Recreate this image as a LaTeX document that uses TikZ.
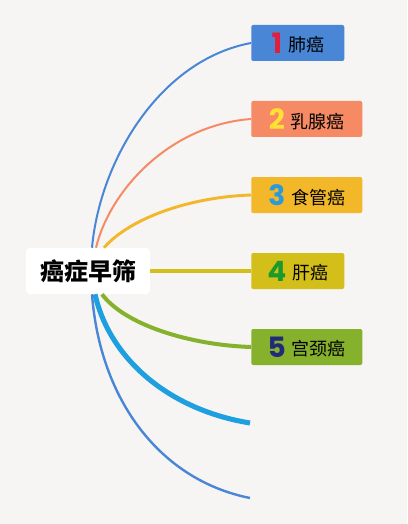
\documentclass[tikz,border=0pt]{standalone}
\usepackage{fontspec}
\newfontfamily\cjk{Noto Sans CJK SC}
\newfontfamily\numfont{Poppins}
\usetikzlibrary{calc}

\definecolor{bgcol}{HTML}{F6F5F4}
\definecolor{blueA}{HTML}{4A86D6}
\definecolor{orangeA}{HTML}{F58A65}
\definecolor{yellowA}{HTML}{F2B829}
\definecolor{oliveA}{HTML}{D4BF1A}
\definecolor{greenA}{HTML}{86B12C}
\definecolor{cyanA}{HTML}{1E9FE0}
\definecolor{redD}{HTML}{E0203A}
\definecolor{yellowD}{HTML}{FFE033}
\definecolor{blueD}{HTML}{2A9AD9}
\definecolor{greenD}{HTML}{1A9A2A}
\definecolor{navyD}{HTML}{1F2A7A}

\tikzset{
  rootbox/.style={fill=white, rounded corners=3pt, minimum width=93pt, minimum height=34.5pt,
    font=\cjk\fontsize{18}{20}\selectfont\bfseries},
  leafbox/.style={fill=#1, rounded corners=1.5pt, minimum height=27pt, inner xsep=4pt,
    anchor=west, font=\cjk\fontsize{13.5}{15}\selectfont},
  short/.style={minimum width=69.75pt},
  long/.style={minimum width=83.25pt}
}
\newcommand{\leaftext}[3]{{\numfont\fontsize{21}{21}\selectfont\bfseries\color{#1}#2}\hspace{4.5pt}\raisebox{1pt}{#3}}

\begin{document}
\begin{tikzpicture}[x=0.75pt,y=-0.75pt]
        % hintergrund
        \fill[bgcol] (0,0) rectangle (407,524);

        % wurzel
        \node[rootbox] (root) at (88,271) {癌症早筛};

        % blätter
        \node[leafbox=blueA, short] (b1) at (251,43) {\leaftext{redD}{1}{肺癌}};
        \node[leafbox=orangeA, long] (b2) at (251,119) {\leaftext{yellowD}{2}{乳腺癌}};
        \node[leafbox=yellowA, long] (b3) at (251,195) {\leaftext{blueD}{3}{食管癌}};
        \node[leafbox=oliveA, short] (b4) at (251,271) {\leaftext{greenD}{4}{肝癌}};
        \node[leafbox=greenA, long] (b5) at (251,347) {\leaftext{navyD}{5}{宫颈癌}};

        % freie enden
        \coordinate (e6) at (250,423);
        \coordinate (e7) at (250,498);

        % startpunkte
        \coordinate (s1) at ($(root.north)+(4,0)$);
        \coordinate (s2) at ($(root.north)+(8,0)$);
        \coordinate (s3) at ($(root.north)+(16,0)$);
        \coordinate (s5) at ($(root.south)+(14,0)$);
        \coordinate (s6) at ($(root.south)+(7,0)$);
        \coordinate (s7) at ($(root.south)+(4,0)$);

        % äste
        \draw[blueA, line width=1.5pt] (s1) .. controls (100,160) and (160,60) .. (b1.west);
        \draw[orangeA, line width=1.5pt] (s2) .. controls (110,190) and (170,125) .. (b2.west);
        \draw[yellowA, line width=2.2pt] (s3) .. controls (130,218) and (190,197) .. (b3.west);
        \draw[oliveA, line width=3.6pt] (root.east) -- (b4.west);
        \draw[greenA, line width=3pt] (s5) .. controls (125,325) and (190,345) .. (b5.west);
        \draw[cyanA, line width=3.8pt] (s6) .. controls (110,360) and (170,410) .. (e6);
        \draw[blueA, line width=1.8pt] (s7) .. controls (100,400) and (160,480) .. (e7);
\end{tikzpicture}
\end{document}
